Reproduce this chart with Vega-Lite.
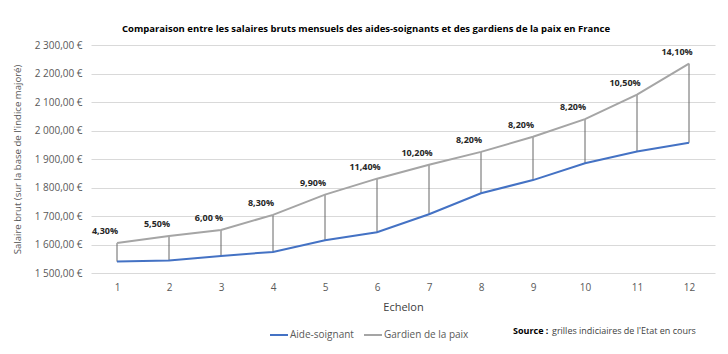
{
  "$schema": "https://vega.github.io/schema/vega-lite/v6.json",
  "autosize": "none",
  "width": 624,
  "height": 228,
  "padding": {"left": 91, "top": 45, "right": 13, "bottom": 81},
  "background": "white",
  "config": {
    "font": "Open Sans",
    "view": {"stroke": null},
    "axis": {"labelFont": "Open Sans", "titleFont": "Open Sans"},
    "axisY": {
      "title": "Salaire brut (sur la base de l'indice majoré)",
      "labelOverlap": false,
      "labelFontSize": 10,
      "labelColor": "#595959",
      "labelPadding": 9,
      "ticks": false,
      "domain": false,
      "gridColor": "#d9d9d9",
      "titleFontSize": 9.6,
      "titleFontWeight": "normal",
      "titleColor": "#595959",
      "titlePadding": 12
    }
  },
  "title": {
    "text": "Comparaison entre les salaires bruts mensuels des aides-soignants et des gardiens de la paix en France",
    "fontSize": 9.5,
    "fontWeight": "bold",
    "color": "#000000",
    "anchor": "middle",
    "dx": -37,
    "offset": 7
  },
  "data": {
    "values": [
      {"echelon": 1, "aide": 1540, "gardien": 1605, "pct": "4,30%"},
      {"echelon": 2, "aide": 1544, "gardien": 1630, "pct": "5,50%"},
      {"echelon": 3, "aide": 1560, "gardien": 1651, "pct": "6,00 %"},
      {"echelon": 4, "aide": 1574, "gardien": 1704, "pct": "8,30%"},
      {"echelon": 5, "aide": 1615, "gardien": 1775, "pct": "9,90%"},
      {"echelon": 6, "aide": 1643, "gardien": 1831, "pct": "11,40%"},
      {"echelon": 7, "aide": 1706, "gardien": 1880, "pct": "10,20%"},
      {"echelon": 8, "aide": 1780, "gardien": 1925, "pct": "8,20%"},
      {"echelon": 9, "aide": 1826, "gardien": 1978, "pct": "8,20%"},
      {"echelon": 10, "aide": 1885, "gardien": 2040, "pct": "8,20%"},
      {"echelon": 11, "aide": 1926, "gardien": 2126, "pct": "10,50%"},
      {"echelon": 12, "aide": 1957, "gardien": 2235, "pct": "14,10%"}
    ]
  },
  "encoding": {
    "x": {
      "field": "echelon",
      "type": "ordinal",
      "scale": {"type": "point", "padding": 0.5},
      "axis": {
        "title": "Echelon",
        "labelAngle": 0,
        "labelFontSize": 10,
        "labelColor": "#595959",
        "labelPadding": 9,
        "ticks": false,
        "domain": false,
        "grid": false,
        "titleFontSize": 11,
        "titleFontWeight": "normal",
        "titleColor": "#404040",
        "titlePadding": 9
      }
    }
  },
  "layer": [
    {
      "mark": {"type": "rule", "color": "#666666", "strokeWidth": 1},
      "encoding": {
        "y": {
          "field": "aide",
          "type": "quantitative",
          "scale": {"domain": [1500, 2300], "nice": false, "zero": false},
          "axis": {
            "title": "Salaire brut (sur la base de l'indice majoré)",
            "values": [1500, 1600, 1700, 1800, 1900, 2000, 2100, 2200, 2300],
            "labelExpr": "replace(replace(format(datum.value, ',.2f'), ',', ' '), '.', ',') + ' €'"
          }
        },
        "y2": {"field": "gardien"}
      }
    },
    {
      "transform": [{"fold": ["aide", "gardien"], "as": ["key", "salaire"]}],
      "mark": {"type": "line", "strokeWidth": 2},
      "encoding": {
        "y": {
          "field": "salaire",
          "type": "quantitative",
          "axis": {
            "title": "Salaire brut (sur la base de l'indice majoré)",
            "values": [1500, 1600, 1700, 1800, 1900, 2000, 2100, 2200, 2300],
            "labelExpr": "replace(replace(format(datum.value, ',.2f'), ',', ' '), '.', ',') + ' €'"
          }
        },
        "color": {
          "field": "key",
          "type": "nominal",
          "scale": {"domain": ["aide", "gardien"], "range": ["#4472c4", "#a5a5a5"]},
          "legend": {
            "orient": "none",
            "legendX": 178,
            "legendY": 280,
            "direction": "horizontal",
            "title": null,
            "symbolType": "stroke",
            "symbolSize": 324,
            "symbolStrokeWidth": 2,
            "labelOffset": 1,
            "labelFontSize": 10,
            "labelColor": "#595959",
            "columnPadding": 6,
            "labelExpr": "datum.value == 'aide' ? 'Aide-soignant' : 'Gardien de la paix'"
          }
        }
      }
    },
    {
      "mark": {"type": "text", "fontSize": 9, "fontWeight": "bold", "color": "#262626", "dx": -12, "dy": -12},
      "encoding": {
        "y": {
          "field": "gardien",
          "type": "quantitative",
          "axis": {
            "title": "Salaire brut (sur la base de l'indice majoré)",
            "values": [1500, 1600, 1700, 1800, 1900, 2000, 2100, 2200, 2300],
            "labelExpr": "replace(replace(format(datum.value, ',.2f'), ',', ' '), '.', ',') + ' €'"
          }
        },
        "text": {"field": "pct"}
      }
    },
    {
      "data": {"values": [{"a": "Source :", "b": "grilles indiciaires de l'Etat en cours"}]},
      "encoding": {
        "x": {"datum": 9},
        "y": {
          "datum": 1296,
          "axis": {
            "title": "Salaire brut (sur la base de l'indice majoré)",
            "values": [1500, 1600, 1700, 1800, 1900, 2000, 2100, 2200, 2300],
            "labelExpr": "replace(replace(format(datum.value, ',.2f'), ',', ' '), '.', ',') + ' €'"
          }
        }
      },
      "layer": [
        {
          "mark": {"type": "text", "fontSize": 9, "fontWeight": "bold", "color": "#000000", "align": "left", "dx": -20},
          "encoding": {"text": {"field": "a"}}
        },
        {
          "mark": {"type": "text", "fontSize": 9, "color": "#404040", "align": "left", "dx": 19},
          "encoding": {"text": {"field": "b"}}
        }
      ]
    }
  ]
}
